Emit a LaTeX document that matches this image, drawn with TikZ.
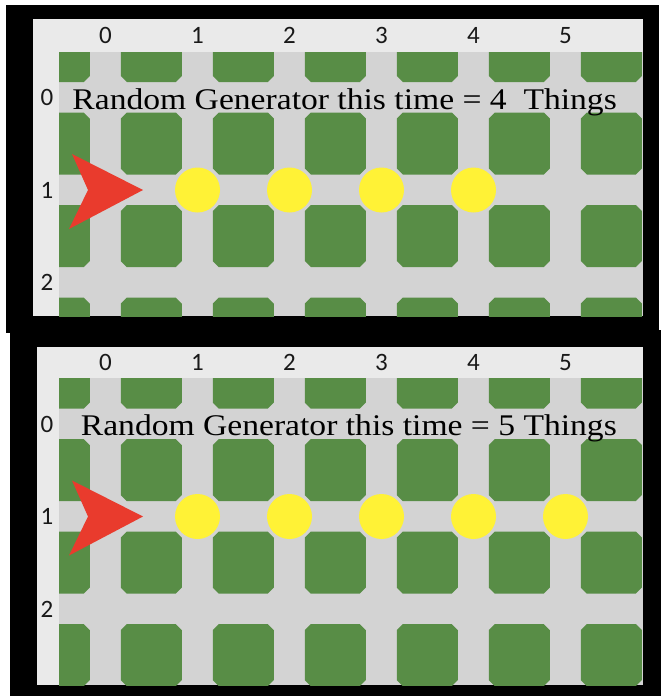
\documentclass[tikz,border=0pt]{standalone}
\usepackage{fontspec}
\usepackage{graphicx}
\setmainfont{Liberation Serif}
\newfontfamily\labelfont{Carlito}
\definecolor{blockgreen}{RGB}{88,141,70}
\definecolor{roadgray}{RGB}{211,211,211}
\definecolor{edgegray}{RGB}{234,234,234}
\definecolor{thingyellow}{RGB}{255,242,54}
\definecolor{turtlered}{RGB}{233,59,45}

\begin{document}
\begin{tikzpicture}[
            x=1pt, y=-1pt,
            block/.style={minimum width=61pt, minimum height=62pt, inner sep=0pt},
            blockfill/.style={fill=blockgreen},
            thing/.style={circle, fill=thingyellow, minimum size=45pt, inner sep=0pt},
            axislabel/.style={font=\labelfont\fontsize{25}{25}\selectfont, text=black!90, inner sep=0pt},
            caption/.style={font=\fontsize{30}{30}\selectfont, inner sep=0pt, anchor=base east},
            turtle/.style={fill=turtlered}
        ]
            % frame
            \useasboundingbox (0,0) rectangle (661,696);
            \fill[white] (0,0) rectangle (661,696);
            \fill[black] (6,5) rectangle (659,333);
            \fill[black] (10,330) rectangle (661,696);

            % two runs of the world
            \foreach \pn/\pl/\pt/\pb/\ph/\ry/\things/\msg in {a/33/19/316/52/97.5/4/{4\ \ Things}, b/37/347/685/378/424/5/{5 Things}}{
              \fill[edgegray] (\pl,\pt) rectangle (643,\pb);
              \fill[roadgray] (59,\ph) rectangle (643,\pb);

              % blocks between the roads
              \begin{scope}
                \clip (59,\ph) rectangle (643,\pb);
                \foreach \i in {-1,...,5}
                  \foreach \j in {0,...,3}{
                    \node[block] (\pn-b\i-\j) at ({151.5+92*\i}, {\ry-46.25+92.5*\j}) {};
                    \fill[blockfill] (\pn-b\i-\j.north west) ++(6,0) -- ++(49,0) -- ++(6,6) -- ++(0,50)
                      -- ++(-6,6) -- ++(-49,0) -- ++(-6,-6) -- ++(0,-50) -- cycle;
                  }
              \end{scope}

              % axis numbers
              \foreach \c in {0,...,5}
                \node[axislabel] (\pn-c\c) at ({105.5+92*\c}, {(\pt+\ph)/2}) {\c};
              \foreach \r in {0,1,2}
                \node[axislabel] (\pn-r\r) at (47, {\ry+92.5*\r}) {\r};

              % things on road 1
              \foreach \k in {1,...,\things}
                \node[thing] (\pn-t\k) at ({105.5+92*\k}, {\ry+92.5}) {};

              % turtle
              \coordinate (\pn-home) at (143, {\ry+92.5});
              \fill[turtle] (\pn-home) -- ++(-71,-36) -- ++(16,36) -- ++(-19,39) -- cycle;

              \node[caption] (\pn-msg) at (617, {\ry+11.5}) {\scalebox{1.12}[1]{Random Generator this time = \msg}};
            }
          \end{tikzpicture}
\end{document}
